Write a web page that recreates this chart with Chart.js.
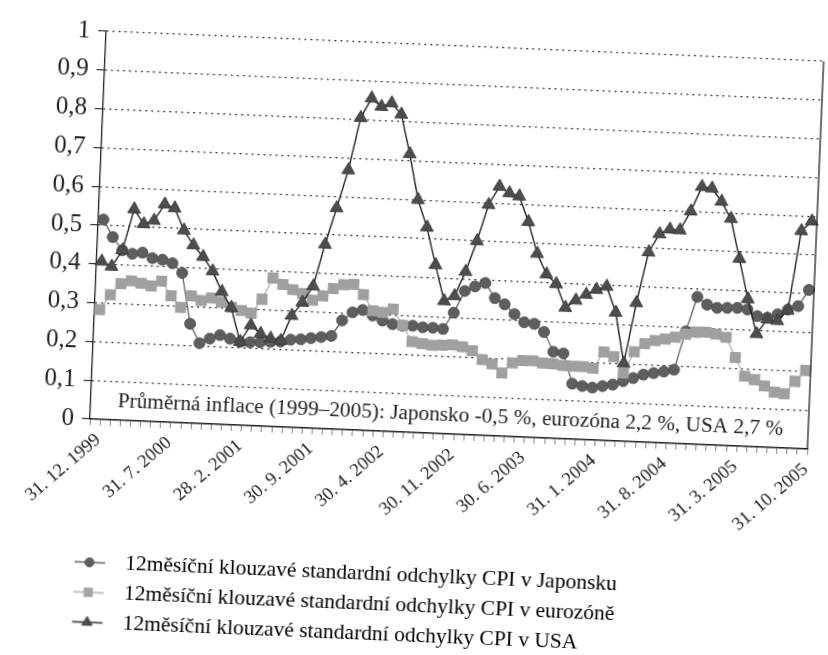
<!DOCTYPE html>
<html>
<head>
<meta charset="utf-8">
<script src="https://cdn.jsdelivr.net/npm/chart.js@4.4.1/dist/chart.umd.min.js"></script>
<style>
  html, body { margin: 0; padding: 0; background: #fff; overflow: hidden; }
  /* the scanned page is a little skewed, so the whole chart is turned by ~2.4 degrees */
  #wrap { position: absolute; left: 0; top: 8px; width: 828px; height: 640px;
          transform-origin: 90px 411px; transform: rotate(2.4deg); }
</style>
</head>
<body>
<div id="wrap"><canvas id="cpiChart" width="828" height="640"></canvas></div>
<script>
  // month-end dates, 31. 12. 1999 ... 31. 10. 2005
  const months = [];
  for (let k = 0; k < 71; k++) {
    const d = new Date(Date.UTC(1999, 12 + k, 0));
    months.push(d.getUTCDate() + '. ' + (d.getUTCMonth() + 1) + '. ' + d.getUTCFullYear());
  }

  const japan = [0.515, 0.471, 0.438, 0.43, 0.434, 0.421, 0.418, 0.41, 0.386, 0.256,
    0.207, 0.22, 0.23, 0.222, 0.215, 0.215, 0.216, 0.218, 0.22, 0.226,
    0.228, 0.232, 0.236, 0.24, 0.281, 0.303, 0.31, 0.297, 0.285, 0.277,
    0.274, 0.275, 0.272, 0.272, 0.27, 0.313, 0.37, 0.383, 0.393, 0.355,
    0.34, 0.316, 0.296, 0.293, 0.273, 0.223, 0.22, 0.143, 0.138, 0.135,
    0.14, 0.145, 0.155, 0.164, 0.174, 0.179, 0.184, 0.19, 0.29, 0.38,
    0.361, 0.354, 0.355, 0.356, 0.353, 0.337, 0.334, 0.344, 0.357, 0.367, 0.41];

  const euro = [0.283, 0.322, 0.352, 0.36, 0.355, 0.349, 0.363, 0.326, 0.297, 0.328,
    0.317, 0.325, 0.315, 0.303, 0.296, 0.29, 0.327, 0.383, 0.367, 0.355,
    0.346, 0.33, 0.342, 0.362, 0.373, 0.375, 0.35, 0.309, 0.306, 0.316,
    0.275, 0.234, 0.23, 0.227, 0.228, 0.23, 0.226, 0.217, 0.195, 0.185,
    0.163, 0.19, 0.197, 0.198, 0.193, 0.192, 0.189, 0.188, 0.188, 0.185,
    0.228, 0.217, 0.176, 0.232, 0.254, 0.263, 0.268, 0.274, 0.283, 0.289,
    0.29, 0.286, 0.279, 0.228, 0.181, 0.173, 0.158, 0.143, 0.14, 0.173, 0.202];

  const usa = [0.407, 0.395, 0.438, 0.545, 0.508, 0.518, 0.561, 0.552, 0.496, 0.459,
    0.43, 0.394, 0.342, 0.302, 0.215, 0.259, 0.238, 0.227, 0.222, 0.288,
    0.323, 0.366, 0.475, 0.57, 0.669, 0.805, 0.856, 0.836, 0.846, 0.818,
    0.717, 0.60, 0.53, 0.434, 0.342, 0.356, 0.42, 0.50, 0.595, 0.643,
    0.627, 0.62, 0.555, 0.474, 0.422, 0.398, 0.338, 0.358, 0.374, 0.388,
    0.397, 0.331, 0.201, 0.358, 0.49, 0.538, 0.551, 0.55, 0.60, 0.664,
    0.661, 0.628, 0.585, 0.483, 0.38, 0.291, 0.33, 0.327, 0.355, 0.561, 0.587];

  const seriesNames = [
    '12měsíční klouzavé standardní odchylky CPI v Japonsku',
    '12měsíční klouzavé standardní odchylky CPI v eurozóně',
    '12měsíční klouzavé standardní odchylky CPI v USA'
  ];
  const noteText = 'Průměrná inflace (1999–2005): Japonsko -0,5 %, eurozóna 2,2 %, USA 2,7 %';

  const serif = '"Liberation Serif", "DejaVu Serif", serif';

  // small line + marker pictures for the legend
  function legendIcon(lineColor, fill, stroke, style, radius) {
    const c = document.createElement('canvas');
    c.width = 82; c.height = 18;
    const g = c.getContext('2d');
    g.strokeStyle = lineColor; g.lineWidth = 1.4;
    g.beginPath(); g.moveTo(52, 9); g.lineTo(82, 9); g.stroke();
    g.fillStyle = fill; g.strokeStyle = stroke; g.lineWidth = 0.8;
    Chart.helpers.drawPoint(g, { pointStyle: style, radius: radius, rotation: 0, borderWidth: 0.8 }, 67, 9);
    return c;
  }
  const icons = [
    legendIcon('#555', '#5e5e5e', '#4a4a4a', 'circle', 4.5),
    legendIcon('#aaa', '#a3a3a3', '#a3a3a3', 'rect', 6),
    legendIcon('#222', '#4d4d4d', '#333', 'triangle', 6)
  ];

  const frameAndNote = {
    id: 'frameAndNote',
    afterDraw(chart) {
      const { ctx, chartArea: a, scales: { y } } = chart;
      ctx.save();
      ctx.strokeStyle = '#222';
      ctx.lineWidth = 1.3;
      ctx.beginPath();
      ctx.moveTo(a.right, a.top);
      ctx.lineTo(a.right, a.bottom);
      ctx.stroke();
      ctx.font = '21.3px ' + serif;
      ctx.fillStyle = '#222';
      ctx.textBaseline = 'middle';
      ctx.fillText(noteText, a.left + 27, y.getPixelForValue(0.047));
      ctx.restore();
    }
  };

  const ctx = document.getElementById('cpiChart').getContext('2d');
  const cpiChart = new Chart(ctx, {
    type: 'line',
    data: {
      labels: months,
      datasets: [
        {
          label: seriesNames[0],
          data: japan,
          borderColor: '#555',
          borderWidth: 1.2,
          backgroundColor: '#5e5e5e',
          pointStyle: 'circle',
          pointRadius: 5.5,
          pointBorderColor: '#4a4a4a',
          pointBorderWidth: 0.8,
          order: 2
        },
        {
          label: seriesNames[1],
          data: euro,
          borderColor: '#b0b0b0',
          borderWidth: 1.2,
          backgroundColor: '#a0a0a0',
          pointStyle: 'rect',
          pointRadius: 7.8,
          pointBorderColor: '#a0a0a0',
          pointBorderWidth: 0,
          order: 1
        },
        {
          label: seriesNames[2],
          data: usa,
          borderColor: '#222',
          borderWidth: 1.4,
          backgroundColor: '#4d4d4d',
          pointStyle: 'triangle',
          pointRadius: 7.5,
          pointBorderColor: '#333',
          pointBorderWidth: 0.8,
          order: 0
        }
      ]
    },
    options: {
      responsive: false,
      animation: false,
      layout: { padding: { left: 10, right: 20, top: 15, bottom: 5 } },
      plugins: {
        tooltip: { enabled: false },
        legend: {
          position: 'bottom',
          align: 'start',
          labels: {
            usePointStyle: true,
            pointStyleWidth: 102,
            padding: 8.5,
            color: '#222',
            font: { family: serif, size: 21.5 },
            generateLabels: (chart) => chart.data.datasets.map((ds, i) => ({
              text: ds.label,
              pointStyle: icons[i],
              fillStyle: ds.backgroundColor,
              strokeStyle: ds.borderColor,
              lineWidth: 0,
              hidden: false,
              datasetIndex: i
            }))
          }
        }
      },
      scales: {
        x: {
          offset: true,
          ticks: {
            autoSkip: false,
            minRotation: 43,
            maxRotation: 43,
            padding: 4,
            labelOffset: 4,
            color: '#222',
            font: { family: serif, size: 18.5 },
            callback: (v, i) => (i % 7 === 0 ? months[i] : '')
          },
          grid: { drawOnChartArea: false, offset: true, tickLength: 6, color: '#888' },
          border: { color: '#222', width: 1.5 },
          afterFit: (s) => { s.height = 124; }
        },
        y: {
          min: 0,
          max: 1,
          ticks: {
            stepSize: 0.1,
            padding: 8,
            color: '#222',
            font: { family: serif, size: 25 },
            callback: (v) => String(Math.round(v * 10) / 10).replace('.', ',')
          },
          grid: { color: '#333', lineWidth: 1.2, tickLength: 8, tickColor: '#333', tickBorderDash: [] },
          border: { color: '#222', width: 1.3, dash: [2, 4] },
          afterFit: (s) => { s.width = 80; }
        }
      }
    },
    plugins: [frameAndNote]
  });
</script>
</body>
</html>
